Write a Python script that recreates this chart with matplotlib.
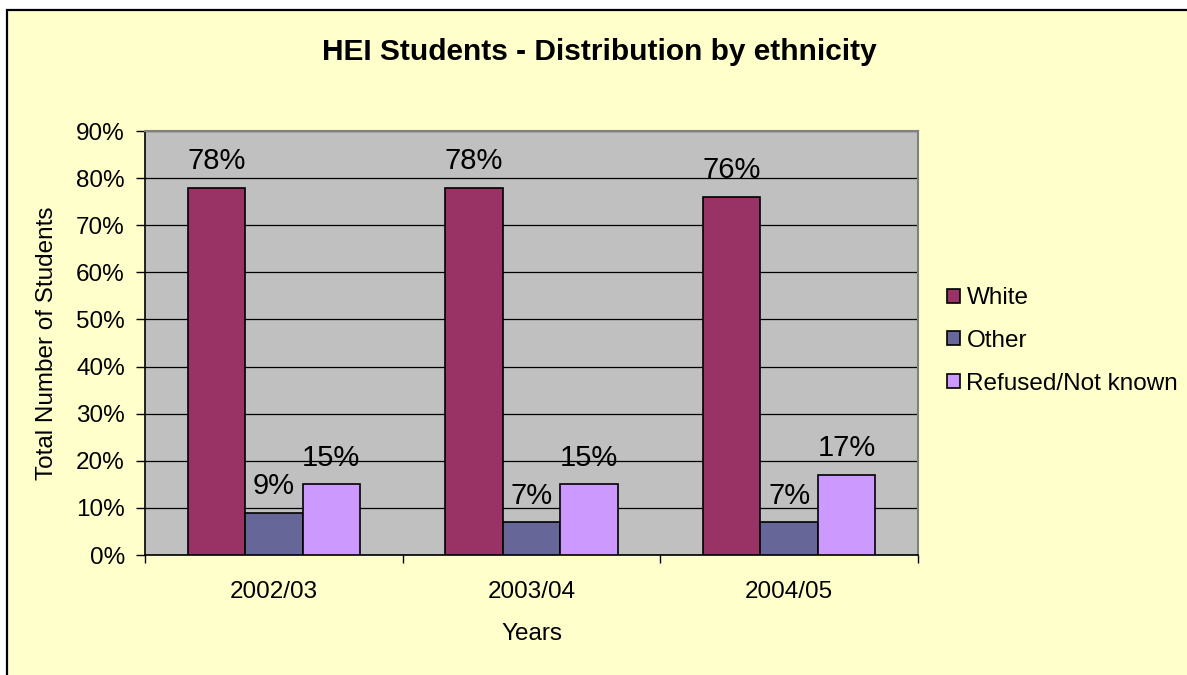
import matplotlib.pyplot as plt
from matplotlib.patches import Rectangle
import numpy as np

plt.rcParams['font.family'] = ['Liberation Sans', 'DejaVu Sans']

years = ['2002/03', '2003/04', '2004/05']
series = ['White', 'Other', 'Refused/Not known']
white = [78, 78, 76]
other = [9, 7, 7]
refused = [15, 15, 17]
colors = ['#993366', '#666699', '#CC99FF']

W, H = 1187, 675
fig = plt.figure(figsize=(W / 100, H / 100), dpi=100)
fig.patch.set_facecolor('white')

# yellow chart area with dark frame at top and left
fig.patches.append(Rectangle((7 / W, -0.05), 1.2, (H - 9.5) / H + 0.05,
                             transform=fig.transFigure, facecolor='#FFFFCC',
                             edgecolor='black', linewidth=1.6, zorder=-1))

ax = fig.add_axes([145 / W, 1 - 555 / H, (918 - 145) / W, (555 - 131) / H])
ax.set_facecolor('#C0C0C0')

fs = 17.5
x = np.arange(len(years))
w = 0.223
for i, (vals, name) in enumerate(zip([white, other, refused], series)):
    bars = ax.bar(x + (i - 1) * w, vals, w, color=colors[i], edgecolor='black',
                  linewidth=1.2, label=name, zorder=3)
    for b, v in zip(bars, vals):
        ax.annotate(f'{v}%', (b.get_x() + b.get_width() / 2, v),
                    xytext=(0, 9), textcoords='offset points',
                    ha='center', va='bottom', fontsize=21)

ax.set_xlim(-0.5, 2.5)
ax.set_ylim(0, 90)
ax.set_yticks(range(0, 91, 10))
ax.set_yticklabels([f'{t}%' for t in range(0, 91, 10)], fontsize=fs)
ax.yaxis.grid(True, color='black', linewidth=0.9, zorder=1)
ax.set_axisbelow(True)

ax.set_xticks(x)
ax.set_xticklabels(years, fontsize=fs)
ax.set_xticks([-0.5, 0.5, 1.5, 2.5], minor=True)
ax.tick_params(axis='x', which='major', length=0, pad=19)
ax.tick_params(axis='x', which='minor', length=6, width=1, direction='out')
ax.tick_params(axis='y', length=6.5, width=1, direction='out', pad=8)

for s in ['left', 'bottom']:
    ax.spines[s].set_color('black')
    ax.spines[s].set_linewidth(1.2)
for s in ['top', 'right']:
    ax.spines[s].set_color('#808080')
    ax.spines[s].set_linewidth(1.5)

ax.set_xlabel('Years', fontsize=fs, labelpad=14)
ax.set_ylabel('Total Number of Students', fontsize=fs, labelpad=13)

fig.text(0.505, 1 - 52 / H, 'HEI Students - Distribution by ethnicity',
         ha='center', va='center', fontsize=21.5, fontweight='bold')

leg = ax.legend(loc='center left', bbox_to_anchor=(1.0375, 0.505), frameon=False,
                fontsize=fs, handlelength=0.55, handleheight=0.5,
                handletextpad=0.25, labelspacing=0.85, borderpad=0,
                borderaxespad=0)

fig.savefig('out.png', dpi=100)
